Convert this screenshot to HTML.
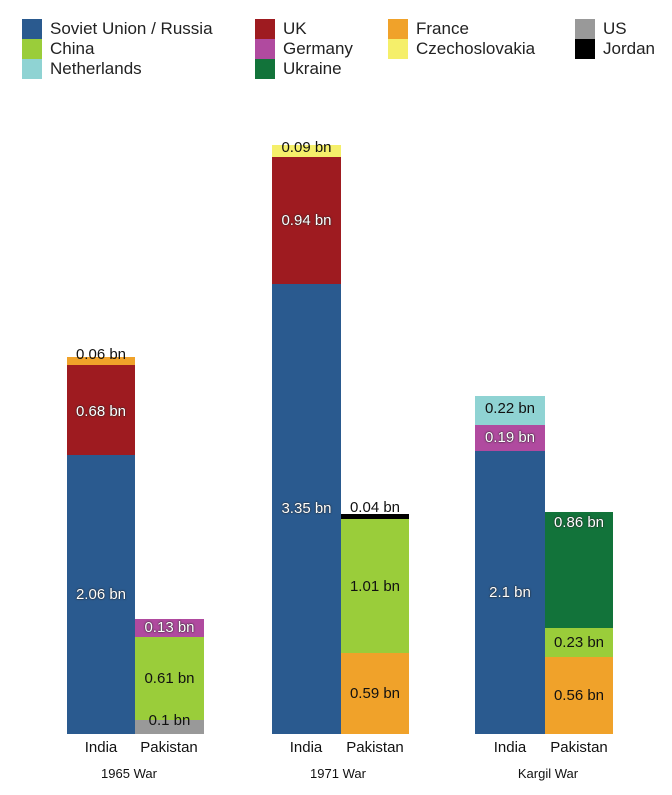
<!DOCTYPE html>
<html><head><meta charset="utf-8"><style>
body{margin:0;background:#fff;width:672px;height:795px;position:relative;font-family:"Liberation Sans",sans-serif;overflow:hidden}
.sq{position:absolute;width:20px;height:20px}
.lt{position:absolute;font-size:17px;color:#222;line-height:20px}
.b{position:absolute}
.l{position:absolute;font-size:15px;text-align:center;line-height:16px;color:#111}
.w{color:#fff;text-shadow:0 0 2px #333,0 0 1px #000}
.c{position:absolute;font-size:15px;color:#111;text-align:center}
.g{position:absolute;font-size:13px;color:#111;text-align:center}
</style></head><body>
<div class="sq" style="left:22px;top:19px;background:#2a5a8f"></div><div class="lt" style="left:50px;top:19px">Soviet Union / Russia</div>
<div class="sq" style="left:22px;top:39px;background:#9acd3a"></div><div class="lt" style="left:50px;top:39px">China</div>
<div class="sq" style="left:22px;top:59px;background:#8fd3d3"></div><div class="lt" style="left:50px;top:59px">Netherlands</div>
<div class="sq" style="left:255px;top:19px;background:#9e1b20"></div><div class="lt" style="left:283px;top:19px">UK</div>
<div class="sq" style="left:255px;top:39px;background:#b04a9f"></div><div class="lt" style="left:283px;top:39px">Germany</div>
<div class="sq" style="left:255px;top:59px;background:#12733a"></div><div class="lt" style="left:283px;top:59px">Ukraine</div>
<div class="sq" style="left:388px;top:19px;background:#f0a22a"></div><div class="lt" style="left:416px;top:19px">France</div>
<div class="sq" style="left:388px;top:39px;background:#f5ef6a"></div><div class="lt" style="left:416px;top:39px">Czechoslovakia</div>
<div class="sq" style="left:575px;top:19px;background:#999"></div><div class="lt" style="left:603px;top:19px">US</div>
<div class="sq" style="left:575px;top:39px;background:#000"></div><div class="lt" style="left:603px;top:39px">Jordan</div>

<div class="b" style="left:67px;width:68px;top:455px;height:279px;background:#2a5a8f"></div>
<div class="b" style="left:67px;width:68px;top:365px;height:90px;background:#9e1b20"></div>
<div class="b" style="left:67px;width:68px;top:357px;height:8px;background:#f0a22a"></div>
<div class="l w" style="left:57px;width:88px;top:587px">2.06 bn</div>
<div class="l w" style="left:57px;width:88px;top:404px">0.68 bn</div>
<div class="l" style="left:57px;width:88px;top:347px">0.06 bn</div>
<div class="b" style="left:135px;width:69px;top:720px;height:14px;background:#999"></div>
<div class="b" style="left:135px;width:69px;top:637px;height:83px;background:#9acd3a"></div>
<div class="b" style="left:135px;width:69px;top:619px;height:18px;background:#b04a9f"></div>
<div class="l" style="left:125px;width:89px;top:713px">0.1 bn</div>
<div class="l" style="left:125px;width:89px;top:671px">0.61 bn</div>
<div class="l w" style="left:125px;width:89px;top:620px">0.13 bn</div>

<div class="b" style="left:272px;width:69px;top:284px;height:450px;background:#2a5a8f"></div>
<div class="b" style="left:272px;width:69px;top:157px;height:127px;background:#9e1b20"></div>
<div class="b" style="left:272px;width:69px;top:145px;height:12px;background:#f5ef6a"></div>
<div class="l w" style="left:262px;width:89px;top:501px">3.35 bn</div>
<div class="l w" style="left:262px;width:89px;top:213px">0.94 bn</div>
<div class="l" style="left:262px;width:89px;top:140px">0.09 bn</div>
<div class="b" style="left:341px;width:68px;top:653px;height:81px;background:#f0a22a"></div>
<div class="b" style="left:341px;width:68px;top:519px;height:134px;background:#9acd3a"></div>
<div class="b" style="left:341px;width:68px;top:514px;height:5px;background:#000"></div>
<div class="l" style="left:331px;width:88px;top:686px">0.59 bn</div>
<div class="l" style="left:331px;width:88px;top:579px">1.01 bn</div>
<div class="l" style="left:331px;width:88px;top:500px">0.04 bn</div>

<div class="b" style="left:475px;width:70px;top:451px;height:283px;background:#2a5a8f"></div>
<div class="b" style="left:475px;width:70px;top:425px;height:26px;background:#b04a9f"></div>
<div class="b" style="left:475px;width:70px;top:396px;height:29px;background:#8fd3d3"></div>
<div class="l w" style="left:465px;width:90px;top:585px">2.1 bn</div>
<div class="l w" style="left:465px;width:90px;top:430px">0.19 bn</div>
<div class="l" style="left:465px;width:90px;top:401px">0.22 bn</div>
<div class="b" style="left:545px;width:68px;top:657px;height:77px;background:#f0a22a"></div>
<div class="b" style="left:545px;width:68px;top:628px;height:29px;background:#9acd3a"></div>
<div class="b" style="left:545px;width:68px;top:512px;height:116px;background:#12733a"></div>
<div class="l" style="left:535px;width:88px;top:688px">0.56 bn</div>
<div class="l" style="left:535px;width:88px;top:635px">0.23 bn</div>
<div class="l w" style="left:535px;width:88px;top:515px">0.86 bn</div>

<div class="c" style="left:61px;width:80px;top:739px">India</div>
<div class="c" style="left:129px;width:80px;top:739px">Pakistan</div>
<div class="c" style="left:266px;width:80px;top:739px">India</div>
<div class="c" style="left:335px;width:80px;top:739px">Pakistan</div>
<div class="c" style="left:470px;width:80px;top:739px">India</div>
<div class="c" style="left:539px;width:80px;top:739px">Pakistan</div>
<div class="g" style="left:79px;width:100px;top:766px">1965 War</div>
<div class="g" style="left:288px;width:100px;top:766px">1971 War</div>
<div class="g" style="left:498px;width:100px;top:766px">Kargil War</div>
</body></html>
